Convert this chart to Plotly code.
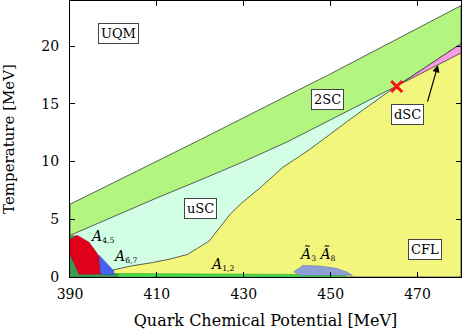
import plotly.graph_objects as go

# ---- boundary data (mu in MeV, T in MeV) ----
mu_2sc_top = [390, 420, 450, 480]
t_2sc_top = [6.3, 11.9, 17.6, 23.5]

mu_2sc_low = [390, 400, 410, 420, 430, 440, 450, 465, 472, 480]
t_2sc_low = [3.6, 5.25, 6.85, 8.4, 10.0, 11.7, 13.6, 16.5, 18.2, 20.2]

mu_cfl = [399.8, 404, 409, 413, 417, 419.5, 422, 424.5, 427, 429.5, 434, 439, 445, 455, 465, 480]
t_cfl = [0.6, 0.95, 1.25, 1.55, 1.95, 2.5, 3.1, 4.3, 5.5, 6.4, 7.8, 9.5, 11.0, 13.8, 16.5, 19.4]

mu_a12 = [390, 453.5, 453.5, 420, 390]
t_a12 = [0, 0, 0.2, 0.28, 0.32]

mu_dark = [390, 390, 391.5, 391.2, 392.5, 401, 401]
t_dark = [0, 3.58, 3.58, 3.3, 0.3, 0.25, 0]

mu_a45 = [390, 391.7, 394.4, 395.9, 396.7, 397.05, 392.1, 390]
t_a45 = [3.26, 3.6, 3.0, 2.25, 1.8, 0.25, 0.23, 1.97]

mu_a67 = [396.7, 400.1, 400.1, 397.05]
t_a67 = [1.88, 0.52, 0.2, 0.25]

mu_a38 = [441.5, 443.6, 447.5, 451.3, 453.6, 455, 443]
t_a38 = [0.45, 1.0, 0.95, 0.75, 0.45, 0.15, 0.12]

crit_mu, crit_t = [465.2], [16.5]
tri_mu, tri_t = [454.0], [-0.2]

phase_labels = ["UQM", "2SC", "uSC", "dSC", "CFL"]
phase_mu = [401.1, 449.2, 420.1, 467.6, 471.8]
phase_t = [21.1, 15.4, 5.95, 14.07, 2.42]

x_ticks = [390, 410, 430, 450, 470]
y_ticks = [0, 5, 10, 15, 20]

LINE = "#3a3a3a"
fig = go.Figure()


def poly(mu, t, fill, lc=LINE, lw=0.8):
    fig.add_trace(go.Scatter(x=list(mu) + [mu[0]], y=list(t) + [t[0]], mode="lines",
                             fill="toself", fillcolor=fill,
                             line=dict(color=lc, width=lw), hoverinfo="skip",
                             showlegend=False))


# 2SC band (everything below top line)
poly(mu_2sc_top + [480, 390], t_2sc_top + [0, 0], "#b2f681")
# uSC (below lower 2SC line)
poly(mu_2sc_low + [480, 390], t_2sc_low + [0, 0], "#d2fee6")
# dSC sliver
poly([465.2, 480, 480], [16.5, 20.2, 19.0], "#f79de6")
# CFL
poly(mu_cfl + [480, 399.8], t_cfl + [0, 0], "#f2f67c")
# bottom strips and small phases
poly(mu_a12, t_a12, "#46dc46", lc="#2f9a2f", lw=0.6)
poly(mu_dark, t_dark, "#3c9a52", lc="#2f7a3f", lw=0.5)
poly(mu_a45, t_a45, "#e0001c", lc="#a00010", lw=0.5)
poly(mu_a67, t_a67, "#4662f2", lc="#2b3fb0", lw=0.5)
poly(mu_a38, t_a38, "#8e9fd6", lc="#6070a8", lw=0.5)

fig.add_trace(go.Scatter(x=crit_mu, y=crit_t, mode="markers",
                         marker=dict(symbol="x-thin", size=11,
                                     line=dict(color="#ff1010", width=3)),
                         showlegend=False, hoverinfo="skip"))
fig.add_trace(go.Scatter(x=tri_mu, y=tri_t, mode="markers", cliponaxis=False,
                         marker=dict(symbol="triangle-down", size=12, color="#ff1010"),
                         showlegend=False, hoverinfo="skip"))

FONT = "DejaVu Serif"
for lab, x, y in zip(phase_labels, phase_mu, phase_t):
    fig.add_annotation(x=x, y=y, text=lab, showarrow=False,
                       font=dict(family=FONT, size=13, color="black"),
                       bgcolor="white", bordercolor="#444", borderwidth=1, borderpad=2)

fig.add_annotation(x=474.7, y=18.35, ax=472.2, ay=15.05, axref="x", ayref="y",
                   text="", showarrow=True, arrowhead=2, arrowsize=1.2,
                   arrowwidth=1.2, arrowcolor="black")

SUB = "<span style='font-size:11px'><sub>%s</sub></span>"
ital = [("<i>A</i>" + SUB % "4,5", 397.3, 3.5),
        ("<i>A</i>" + SUB % "6,7", 402.6, 1.76),
        ("<i>A</i>" + SUB % "1,2", 424.9, 1.04),
        ("<i>Ã</i>" + SUB % "3" + " <i>Ã</i>" + SUB % "8", 446.9, 1.95)]
for txt, x, y in ital:
    fig.add_annotation(x=x, y=y, text=txt, showarrow=False,
                       font=dict(family=FONT, size=14, color="black"))

axis_common = dict(showline=True, linecolor="black", linewidth=1, mirror="ticks",
                   ticks="inside", ticklen=5, tickcolor="black", showgrid=False,
                   zeroline=False, automargin=False,
                   tickfont=dict(family=FONT, size=14, color="black"))
fig.update_xaxes(range=[390, 480], tickvals=x_ticks, ticklabelstandoff=4,
                 title=dict(text="Quark Chemical Potential [MeV]",
                            font=dict(family=FONT, size=16, color="black"), standoff=14),
                 **axis_common)
fig.update_yaxes(range=[0, 23.9], tickvals=y_ticks, ticklabelstandoff=7,
                 title=dict(text="Temperature [MeV]",
                            font=dict(family=FONT, size=15, color="black"), standoff=25),
                 **axis_common)
fig.update_layout(width=463, height=330, margin=dict(l=70, r=2, t=1, b=53),
                  plot_bgcolor="white", paper_bgcolor="white", showlegend=False)
fig.write_html("out.html", config={"displayModeBar": False},
               post_script="document.body.style.margin='0';document.body.style.overflow='hidden';")
